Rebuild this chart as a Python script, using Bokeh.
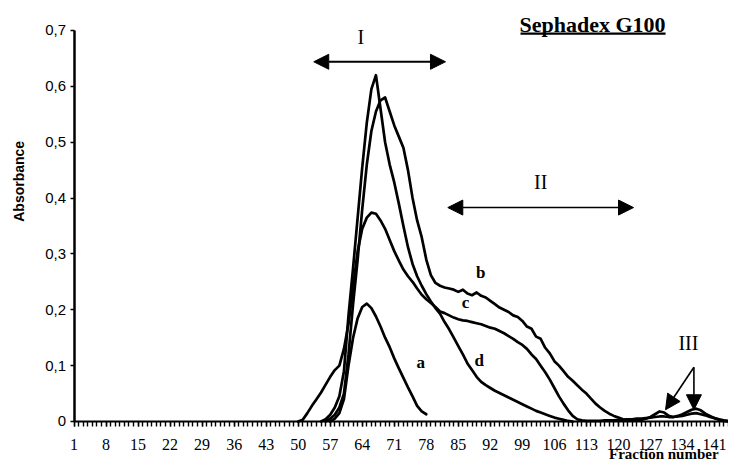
from bokeh.plotting import figure
from bokeh.models import FixedTicker, CustomJSTickFormatter, Label, Arrow, NormalHead, BoxAnnotation
from bokeh.embed import file_html
from bokeh.resources import INLINE

# ---------------- data ----------------
fractions_all = list(range(1, 146))
x_tick_values = [1, 8, 15, 22, 29, 36, 43, 50, 57, 64, 71, 78, 85, 92, 99, 106, 113, 120, 127, 134, 141]
x_tick_labels = ["1", "8", "15", "22", "29", "36", "43", "50", "57", "64", "71", "78", "85", "92",
                 "99", "106", "113", "120", "127", "134", "141"]
y_tick_values = [0, 0.1, 0.2, 0.3, 0.4, 0.5, 0.6, 0.7]
y_tick_labels = ["0", "0,1", "0,2", "0,3", "0,4", "0,5", "0,6", "0,7"]

curve_names = ["a", "b", "c", "d"]

a_start = 57
a_values = [0.0, 0.005, 0.015, 0.04, 0.1, 0.15, 0.185, 0.205, 0.211, 0.203, 0.188, 0.17, 0.15,
            0.133, 0.113, 0.095, 0.078, 0.061, 0.045, 0.028, 0.018, 0.013]

b_start = 56
b_values = [0.0, 0.005, 0.012, 0.025, 0.05, 0.12, 0.21, 0.29, 0.38, 0.46, 0.52, 0.555, 0.575, 0.58,
            0.555, 0.53, 0.51, 0.49, 0.45, 0.40, 0.36, 0.33, 0.29, 0.262, 0.248, 0.243, 0.24, 0.238,
            0.236, 0.232, 0.236, 0.229, 0.226, 0.231, 0.225, 0.222, 0.216, 0.21, 0.204, 0.2, 0.196,
            0.19, 0.187, 0.18, 0.17, 0.166, 0.152, 0.148, 0.132, 0.122, 0.108, 0.1, 0.09, 0.08, 0.073,
            0.065, 0.057, 0.05, 0.041, 0.032, 0.025, 0.019, 0.014, 0.01, 0.007, 0.004, 0.003, 0.002,
            0.002, 0.003, 0.005, 0.008, 0.013, 0.018, 0.016, 0.01, 0.008, 0.01, 0.013, 0.017, 0.021,
            0.023, 0.02, 0.014, 0.01, 0.006, 0.003, 0.001, 0.0]

c_start = 50
c_values = [0.0, 0.003, 0.015, 0.028, 0.04, 0.052, 0.066, 0.08, 0.092, 0.1, 0.13, 0.175, 0.24, 0.305,
            0.345, 0.365, 0.374, 0.372, 0.36, 0.345, 0.325, 0.305, 0.288, 0.272, 0.26, 0.25, 0.238,
            0.227, 0.219, 0.212, 0.205, 0.197, 0.194, 0.19, 0.186, 0.183, 0.181, 0.18, 0.178, 0.176,
            0.174, 0.171, 0.168, 0.166, 0.162, 0.158, 0.153, 0.148, 0.142, 0.137, 0.13, 0.12, 0.112,
            0.1, 0.088, 0.075, 0.06, 0.045, 0.032, 0.02, 0.01, 0.004, 0.002, 0.001, 0.001, 0.001,
            0.001, 0.002, 0.002, 0.002, 0.003, 0.003, 0.004, 0.004, 0.005, 0.005, 0.006, 0.007, 0.008,
            0.009, 0.009, 0.008, 0.008, 0.009, 0.01, 0.012, 0.014, 0.015, 0.013, 0.011, 0.008, 0.006,
            0.004, 0.002, 0.001, 0.0]

d_start = 55
d_values = [0.0, 0.004, 0.012, 0.025, 0.045, 0.09, 0.19, 0.275, 0.365, 0.455, 0.535, 0.595, 0.62,
            0.56, 0.5, 0.46, 0.428, 0.39, 0.35, 0.312, 0.282, 0.26, 0.243, 0.228, 0.215, 0.203, 0.193,
            0.178, 0.165, 0.15, 0.135, 0.12, 0.104, 0.092, 0.08, 0.071, 0.065, 0.06, 0.055, 0.051,
            0.047, 0.043, 0.039, 0.035, 0.031, 0.027, 0.023, 0.019, 0.016, 0.013, 0.01, 0.007, 0.005,
            0.003, 0.001, 0.0]

series = {
    "a": (a_start, a_values),
    "b": (b_start, b_values),
    "c": (c_start, c_values),
    "d": (d_start, d_values),
}

# ---------------- figure ----------------
# the frame covers the whole canvas; axes are pinned at x=1 and y=0
p = figure(width=728, height=463, x_range=(-15.07, 144.06), y_range=(-0.0752, 0.7537),
           output_backend="svg", toolbar_location=None,
           min_border_left=0, min_border_right=0, min_border_top=0, min_border_bottom=0)
p.outline_line_color = None
p.grid.visible = False
p.background_fill_color = "white"
p.border_fill_color = "white"

for name in curve_names:
    start, vals = series[name]
    xs = list(range(start, start + len(vals)))
    p.line(xs, vals, line_color="black", line_width=2.7, line_join="round", line_cap="round")

# x axis
p.xaxis.fixed_location = 0
p.xaxis.bounds = (1, 144.06)
p.xaxis.ticker = FixedTicker(ticks=x_tick_values, minor_ticks=fractions_all)
p.xaxis.major_label_overrides = dict(zip(x_tick_values, x_tick_labels))
p.xaxis.axis_line_width = 2
p.xaxis.axis_line_color = "black"
p.xaxis.major_tick_in = 0
p.xaxis.major_tick_out = 5
p.xaxis.minor_tick_in = 0
p.xaxis.minor_tick_out = 5
p.xaxis.major_tick_line_width = 1.4
p.xaxis.minor_tick_line_width = 1.4
p.xaxis.major_tick_line_color = "black"
p.xaxis.minor_tick_line_color = "black"
p.xaxis.major_label_standoff = 13
p.xaxis.major_label_text_font = "Liberation Sans Narrow"
p.xaxis.major_label_text_font_size = "16px"
p.xaxis.major_label_text_color = "black"

# y axis
p.yaxis.fixed_location = 1
p.yaxis.bounds = (0, 0.7)
p.yaxis.ticker = FixedTicker(ticks=y_tick_values, minor_ticks=[])
p.yaxis.formatter = CustomJSTickFormatter(
    args=dict(yvals=y_tick_values, ylabels=y_tick_labels),
    code="""
    for (let i = 0; i < yvals.length; i++) {
        if (Math.abs(yvals[i] - tick) < 1e-9) { return ylabels[i]; }
    }
    return "";
    """)
p.yaxis.axis_line_width = 2.5
p.yaxis.axis_line_color = "black"
p.yaxis.major_tick_in = 0
p.yaxis.major_tick_out = 4
p.yaxis.major_tick_line_width = 1.5
p.yaxis.major_label_standoff = 4
p.yaxis.major_label_text_font = "Liberation Sans"
p.yaxis.major_label_text_font_size = "15px"
p.yaxis.major_label_text_color = "black"

# axis titles
p.add_layout(Label(x=-11.13, y=0.43, text="Absorbance",
                   angle=90, angle_units="deg", text_align="center", text_baseline="middle",
                   text_font="Liberation Sans", text_font_style="bold", text_font_size="14px",
                   text_color="black"))
p.add_layout(Label(x=141.9, y=-0.0575, text="Fraction number", text_align="right",
                   text_baseline="middle", text_font="Liberation Sans Narrow",
                   text_font_style="bold", text_font_size="15px", text_color="black"))

# title
p.add_layout(Label(x=130.3, y=0.7116, text="Sephadex G100", text_align="right",
                   text_baseline="middle", text_font="Liberation Serif", text_font_style="bold",
                   text_font_size="22px", text_color="black"))
p.add_layout(BoxAnnotation(left=98.6, right=130.3, bottom=0.6925, top=0.6965,
                           fill_color="black", fill_alpha=1, line_color=None))

# curve letters
letter_pos = {"a": (76.8, 0.106), "b": (89.9, 0.267), "c": (86.6, 0.213), "d": (89.6, 0.109)}
for name in curve_names:
    lx, ly = letter_pos[name]
    p.add_layout(Label(x=lx, y=ly, text=name, text_align="center", text_baseline="middle",
                       text_font="Liberation Serif", text_font_style="bold",
                       text_font_size="17px", text_color="black"))

# region arrows
def head():
    return NormalHead(size=15, fill_color="black", line_color="black")

p.add_layout(Arrow(start=head(), end=head(), x_start=53.4, y_start=0.644, x_end=82.2, y_end=0.644,
                   line_width=2, line_color="black"))
p.add_layout(Arrow(start=head(), end=head(), x_start=82.7, y_start=0.383, x_end=123.3, y_end=0.383,
                   line_width=1.6, line_color="black"))
p.add_layout(Arrow(end=head(), x_start=136.5, y_start=0.097, x_end=130.3, y_end=0.021,
                   line_width=1.6, line_color="black"))
p.add_layout(Arrow(end=head(), x_start=136.5, y_start=0.097, x_end=136.5, y_end=0.021,
                   line_width=1.6, line_color="black"))

for txt, lx, ly in [("I", 63.7, 0.688), ("II", 103.0, 0.428), ("III", 135.3, 0.14)]:
    p.add_layout(Label(x=lx, y=ly, text=txt, text_align="center", text_baseline="middle",
                       text_font="Liberation Serif", text_font_size="20px", text_color="black"))

open("out.html", "w").write(file_html(p, INLINE))
